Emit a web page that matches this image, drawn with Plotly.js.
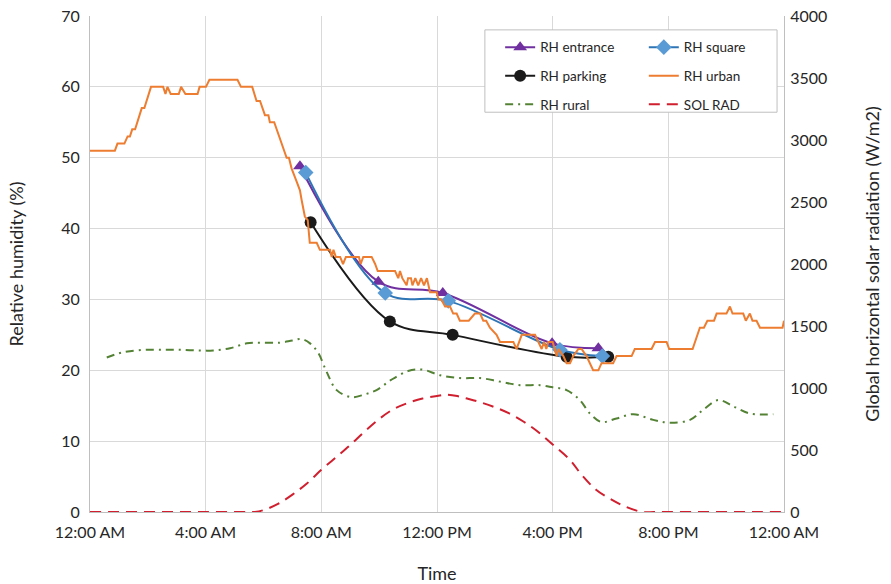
<!DOCTYPE html>
<html><head><meta charset="utf-8">
<script src="https://cdn.plot.ly/plotly-3.0.1.min.js"></script>
<style>html,body{margin:0;padding:0;background:#fff}#chart{width:891px;height:584px}</style>
</head><body><div id="chart"></div>
<script>
const tickHours = [0,4,8,12,16,20,24];
const tickLabels = ['12:00 AM','4:00 AM','8:00 AM','12:00 PM','4:00 PM','8:00 PM','12:00 AM'];

const entranceHours = [7.26, 9.97, 12.2, 15.98, 17.58];
const entranceRH    = [48.8, 32.5, 30.9, 23.8, 23.1];

const squareHours = [7.46, 10.21, 12.39, 16.25, 17.72];
const squareRH    = [47.9, 30.9, 29.8, 22.9, 22.0];

const parkingHours = [7.63, 10.37, 12.54, 16.48, 17.92];
const parkingRH    = [40.9, 26.9, 25.0, 21.9, 21.9];

const urbanHours = [
  0,0.86,0.95,1.19,1.30,1.38,1.46,1.56,1.79,1.88,
  2.11,2.53,2.61,2.68,2.79,3.07,3.15,3.30,3.72,3.79,
  4.01,4.13,5.10,5.22,5.61,5.76,5.88,6.05,6.17,6.22,
  6.37,6.80,6.88,6.97,7.15,7.26,7.32,7.43,7.53,7.60,
  7.84,7.95,8.30,8.36,8.42,8.50,8.65,8.75,8.85,9.00,
  9.30,9.36,9.45,9.74,9.86,9.95,10.55,10.66,10.72,10.80,
  10.95,11.00,11.10,11.15,11.25,11.35,11.45,11.55,11.65,11.76,
  11.99,12.05,12.15,12.28,12.45,12.56,12.68,12.79,13.10,13.31,
  13.49,13.60,13.70,13.83,14.06,14.18,14.41,14.64,14.75,14.93,
  15.39,15.50,15.62,15.70,15.78,15.85,16.00,16.14,16.20,16.37,
  16.48,16.60,16.71,16.89,17.00,17.17,17.29,17.40,17.58,17.69,
  18.09,18.21,18.73,18.84,19.42,19.54,19.94,20.03,20.84,21.09,
  21.23,21.35,21.58,21.67,22.01,22.13,22.22,22.59,22.68,22.82,
  22.91,23.05,23.17,23.95,24.00];
const urbanRH = [
  51,51,52,52,53,53,54,54,57,57,
  60,60,59,60,59,59,60,59,59,60,
  60,61,61,60,60,58,58,56,56,55,
  55,50,50,48.5,46.6,45.4,44,41.7,41.2,38,
  38,37,37,36,37,36,36,35,36,36,
  36,35,36,36,35,34,34,33,34,33,
  32,33,33,32,33,32,33,32,33,31,
  31,30,30,29,29,28,28,27,27,28,
  28,27,27,26,25,24,24,24,23,25,
  25,24,23,24,23,24,24,22,23,22,
  21,21,22,23,23,22,21,20,20,21,
  21,22,22,23,23,24,24,23,23,26,
  26,27,27,28,28,29,28,28,27,28,
  27,27,26,26,27];

const ruralHours = [0.58,1.0,1.38,1.96,2.6,3.11,3.7,4.26,4.84,5.42,6.0,6.57,7.0,7.32,7.61,7.9,8.18,8.53,9.05,9.5,9.91,10.4,11.0,11.5,12.1,12.8,13.49,14.18,14.87,15.56,16.0,16.48,16.94,17.29,17.69,18.21,18.79,19.48,20.05,20.75,21.2,21.73,22.25,22.82,23.63];
const ruralRH    = [21.8,22.4,22.7,22.9,22.9,22.9,22.8,22.8,23.1,23.8,23.9,23.9,24.2,24.4,23.8,22.4,19.8,17.2,16.2,16.6,17.2,18.6,19.9,20.1,19.3,18.9,18.9,18.4,17.9,17.9,17.6,17.2,15.8,13.9,12.7,13.2,13.8,13.0,12.6,13.0,14.4,15.8,14.9,13.9,13.8];

const solarHours = [0,1,2,3,4,5,5.5,5.7,6.0,6.5,7.0,7.5,8.0,8.5,9.0,9.5,10.0,10.5,11.0,11.5,12.0,12.3,12.7,13.0,13.5,14.0,14.5,15.0,15.5,16.0,16.6,17.0,17.5,18.0,18.5,19.1,19.5,20,21,22,23,24];
const solarRad   = [0,0,0,0,0,0,0,0,15,65,140,230,340,440,540,650,750,830,880,915,935,945,935,917,885,845,795,728,645,545,420,300,180,105,45,0,0,0,0,0,0,0];

const FONT = 'Lato, "Liberation Sans", sans-serif';
const TXT = '#262626';

const traces = [
  {x: entranceHours, y: entranceRH, name: 'RH entrance', mode: 'lines+markers', legend: 'legend', legendgroup: 'a',
   line: {color: '#7030A0', width: 2, shape: 'spline'}, marker: {symbol: 'triangle-up', size: 12, color: '#7030A0'}},
  {x: parkingHours, y: parkingRH, name: 'RH parking', mode: 'lines+markers', legend: 'legend', legendgroup: 'b',
   line: {color: '#1a1a1a', width: 2, shape: 'spline'}, marker: {symbol: 'circle', size: 12, color: '#1a1a1a'}},
  {x: ruralHours, y: ruralRH, name: 'RH rural', mode: 'lines', legend: 'legend', legendgroup: 'c',
   line: {color: '#548235', width: 2, shape: 'spline', dash: '8px,5px,2px,5px'}},
  {x: squareHours, y: squareRH, name: 'RH square', mode: 'lines+markers', legend: 'legend2', legendgroup: 'd',
   line: {color: '#2E75B6', width: 2, shape: 'spline'}, marker: {symbol: 'diamond', size: 12, color: '#5B9BD5'}},
  {x: urbanHours, y: urbanRH, name: 'RH urban', mode: 'lines', legend: 'legend2', legendgroup: 'e',
   line: {color: '#ED7D31', width: 2}},
  {x: solarHours, y: solarRad, name: 'SOL RAD', mode: 'lines', yaxis: 'y2', legend: 'legend2', legendgroup: 'f',
   line: {color: '#D01F2E', width: 2, shape: 'spline', dash: '11px,7px'}}
];

const legendCommon = {
  font: {family: FONT, size: 13.5, color: TXT},
  bgcolor: 'rgba(0,0,0,0)', borderwidth: 0,
  yanchor: 'top', xanchor: 'left', y: 0.968,
  tracegroupgap: 8, itemwidth: 30
};

const layout = {
  width: 891, height: 584,
  margin: {l: 90, r: 107, t: 16, b: 72},
  paper_bgcolor: '#fff', plot_bgcolor: '#fff',
  font: {family: FONT, color: TXT},
  showlegend: true,
  xaxis: {
    range: [0, 24], tickvals: tickHours, ticktext: tickLabels,
    showgrid: true, gridcolor: '#d9d9d9', gridwidth: 1,
    showline: true, linecolor: '#bfbfbf', linewidth: 1, zeroline: false,
    ticks: '', ticklabelstandoff: 6, tickfont: {family: FONT, size: 16, color: TXT},
    title: {text: 'Time', font: {family: FONT, size: 18, color: TXT}, standoff: 28}
  },
  yaxis: {
    range: [0, 70], dtick: 10, showgrid: true, gridcolor: '#d9d9d9', gridwidth: 1,
    showline: true, linecolor: '#bfbfbf', zeroline: false, ticks: '',
    ticklabelstandoff: 6, tickfont: {family: FONT, size: 16, color: TXT},
    title: {text: 'Relative humidity (%)', font: {family: FONT, size: 18, color: TXT}, standoff: 32}
  },
  yaxis2: {
    range: [0, 4000], dtick: 500, overlaying: 'y', side: 'right', showgrid: false,
    showline: true, linecolor: '#bfbfbf', zeroline: false, ticks: '',
    ticklabelstandoff: 2, tickfont: {family: FONT, size: 16, color: TXT},
    title: {text: 'Global horizontal solar radiation (W/m2)', font: {family: FONT, size: 18, color: TXT}, standoff: 40}
  },
  legend: Object.assign({}, legendCommon, {x: 0.591}),
  legend2: Object.assign({}, legendCommon, {x: 0.798}),
  shapes: [{type: 'rect', xref: 'paper', yref: 'paper', x0: 0.569, x1: 0.99, y0: 0.806, y1: 0.972,
            line: {color: '#bfbfbf', width: 1}, fillcolor: '#ffffff', layer: 'above'}]
};

Plotly.newPlot('chart', traces, layout, {displayModeBar: false, staticPlot: true});
</script>
</body></html>
